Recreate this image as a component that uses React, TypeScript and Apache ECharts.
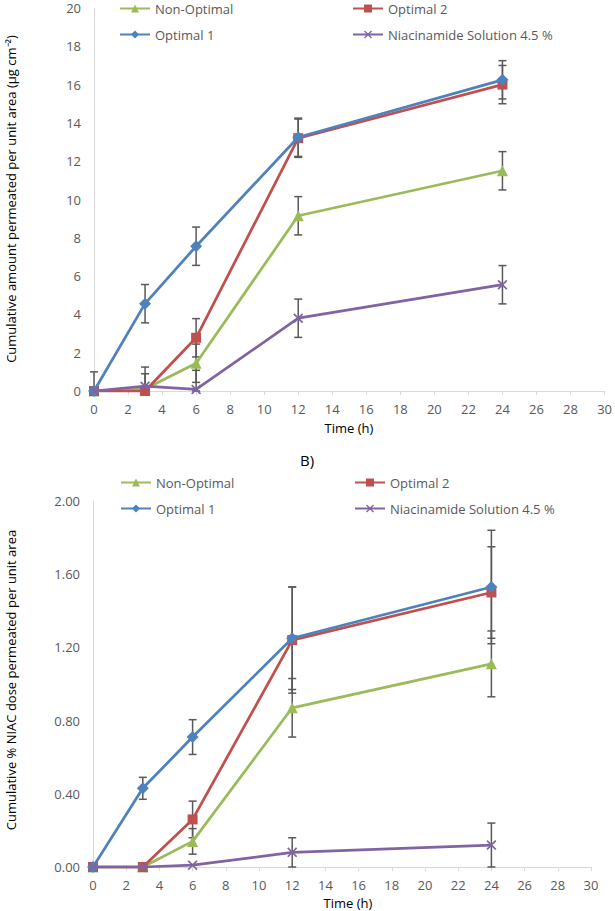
import React, { useEffect, useRef } from "react";
import * as echarts from "echarts";

// Sampling times (h)
const timeH = [0, 3, 6, 12, 24];
const xTicks = [0, 30, 2];

// Panel A: cumulative amount permeated per unit area (µg cm⁻²)
const nonOptA = [0, 0.1, 1.45, 9.15, 11.5];
const nonOptAErr = [0, 0.8, 1, 1, 1];
const opt2A = [0, 0, 2.78, 13.2, 16.0];
const opt2AErr = [0, 0, 1, 1, 1];
const opt1A = [0, 4.56, 7.56, 13.25, 16.25];
const opt1AErr = [1, 1, 1, 1, 1];
const niacA = [0, 0.25, 0.08, 3.8, 5.55];
const niacAErr = [0, 1, 1, 1, 1];

// Panel B: cumulative % NIAC dose permeated per unit area
const nonOptB = [0, 0, 0.14, 0.87, 1.11];
const nonOptBErr = [0, 0, 0.07, 0.16, 0.18];
const opt2B = [0, 0, 0.26, 1.24, 1.5];
const opt2BErr = [0, 0, 0.1, 0.29, 0.25];
const opt1B = [0, 0.43, 0.71, 1.25, 1.53];
const opt1BErr = [0, 0.06, 0.095, 0.28, 0.31];
const niacB = [0, 0, 0.01, 0.08, 0.12];
const niacBErr = [0, 0, 0, 0.08, 0.12];

const names = ["Non-Optimal", "Optimal 2", "Optimal 1", "Niacinamide Solution 4.5 %"];
const colors = ["#9BBB59", "#C0504D", "#4F81BD", "#8064A2"];
const crossPath =
  "path://M0,1.2L1.2,0L5,3.8L8.8,0L10,1.2L6.2,5L10,8.8L8.8,10L5,6.2L1.2,10L0,8.8L3.8,5Z";
const symbols = ["triangle", "rect", "diamond", crossPath];
const symbolSizes = [11, 10, 12, 10];

const FONT = "Open Sans";
const GREY = "#595959";

function lineSeries(idx: number, values: number[], gridIdx: number) {
  return {
    type: "line",
    name: names[idx],
    xAxisIndex: gridIdx,
    yAxisIndex: gridIdx,
    data: timeH.map((t, i) => [t, values[i]]),
    symbol: symbols[idx],
    symbolSize: symbolSizes[idx],
    showAllSymbol: true,
    lineStyle: { color: colors[idx], width: 2.75 },
    itemStyle: { color: colors[idx] },
    z: 3 + idx,
  };
}

function errorSeries(pairs: [number[], number[]][], gridIdx: number) {
  const data: number[][] = [];
  pairs.forEach(([vals, errs]) => {
    timeH.forEach((t, i) => {
      if (errs[i] > 0) data.push([t, Math.max(0, vals[i] - errs[i]), vals[i] + errs[i]]);
    });
  });
  return {
    type: "custom",
    xAxisIndex: gridIdx,
    yAxisIndex: gridIdx,
    data,
    z: 2,
    silent: true,
    renderItem: (params: any, api: any) => {
      const x = api.value(0);
      const top = api.coord([x, api.value(2)]);
      const bot = api.coord([x, api.value(1)]);
      const st = { stroke: GREY, lineWidth: 1.5 };
      const w = 4;
      return {
        type: "group",
        children: [
          { type: "line", shape: { x1: top[0], y1: top[1], x2: bot[0], y2: bot[1] }, style: st },
          { type: "line", shape: { x1: top[0] - w, y1: top[1], x2: top[0] + w, y2: top[1] }, style: st },
          { type: "line", shape: { x1: bot[0] - w, y1: bot[1], x2: bot[0] + w, y2: bot[1] }, style: st },
        ],
      };
    },
  };
}

function xAxis(gridIdx: number) {
  return {
    type: "value",
    gridIndex: gridIdx,
    min: xTicks[0],
    max: xTicks[1],
    interval: xTicks[2],
    axisLine: { show: true, lineStyle: { color: "#D9D9D9", width: 1 } },
    axisTick: { show: true, length: 4, lineStyle: { color: "#D9D9D9" } },
    splitLine: { show: false },
    axisLabel: { color: GREY, fontSize: 13, fontFamily: FONT, margin: 11 },
  };
}

function yAxis(gridIdx: number, max: number, interval: number, decimals: number) {
  return {
    type: "value",
    gridIndex: gridIdx,
    min: 0,
    max,
    interval,
    axisLine: { show: true, lineStyle: { color: "#D9D9D9", width: 1 } },
    axisTick: { show: false },
    splitLine: { show: false },
    axisLabel: {
      color: GREY,
      fontSize: 13,
      fontFamily: FONT,
      margin: 13,
      formatter: (v: number) => v.toFixed(decimals),
    },
  };
}

function legendItem(idx: number, left: number, top: number) {
  return {
    data: [names[idx]],
    left,
    top,
    padding: 0,
    itemWidth: 30,
    itemHeight: 10,
    itemGap: 0,
    selectedMode: false,
    textStyle: { color: GREY, fontSize: 13, fontFamily: FONT },
  };
}

function text(str: string, x: number, y: number, opts: any = {}) {
  return {
    type: "text",
    x,
    y,
    rotation: opts.rotation || 0,
    style: {
      text: str,
      fill: opts.fill || "#000000",
      fontSize: opts.fontSize || 13,
      fontFamily: FONT,
      align: "center",
      verticalAlign: "middle",
    },
  };
}

export default function App() {
  const ref = useRef<HTMLDivElement>(null);

  useEffect(() => {
    if (!ref.current) return;
    const chart = echarts.init(ref.current, undefined, { renderer: "svg" });
    chart.setOption({
      animation: false,
      backgroundColor: "#ffffff",
      grid: [
        { left: 94, right: 10, top: 8, bottom: 520 },
        { left: 93, right: 24, top: 501, bottom: 44 },
      ],
      xAxis: [xAxis(0), xAxis(1)],
      yAxis: [yAxis(0, 20, 2, 0), yAxis(1, 2, 0.4, 2)],
      legend: [
        legendItem(0, 119, 2),
        legendItem(1, 352, 2),
        legendItem(2, 119, 28),
        legendItem(3, 352, 28),
        legendItem(0, 120, 476),
        legendItem(1, 354, 476),
        legendItem(2, 120, 502),
        legendItem(3, 354, 502),
      ],
      series: [
        errorSeries(
          [
            [nonOptA, nonOptAErr],
            [opt2A, opt2AErr],
            [opt1A, opt1AErr],
            [niacA, niacAErr],
          ],
          0
        ),
        errorSeries(
          [
            [nonOptB, nonOptBErr],
            [opt2B, opt2BErr],
            [opt1B, opt1BErr],
            [niacB, niacBErr],
          ],
          1
        ),
        lineSeries(0, nonOptA, 0),
        lineSeries(1, opt2A, 0),
        lineSeries(2, opt1A, 0),
        lineSeries(3, niacA, 0),
        lineSeries(0, nonOptB, 1),
        lineSeries(1, opt2B, 1),
        lineSeries(2, opt1B, 1),
        lineSeries(3, niacB, 1),
      ],
      graphic: [
        text("Cumulative amount permeated per unit area (μg cm⁻²)", 11, 199, { rotation: Math.PI / 2 }),
        text("Time (h)", 349, 428),
        text("B)", 307, 460, { fontSize: 15 }),
        text("Cumulative % NIAC dose permeated per unit area", 11, 680, { rotation: Math.PI / 2 }),
        text("Time (h)", 348, 903),
      ],
    });
    return () => chart.dispose();
  }, []);

  return (
    <div
      ref={ref}
      style={{ position: "fixed", left: 0, top: 0, width: 615, height: 911, background: "#fff" }}
    />
  );
}
